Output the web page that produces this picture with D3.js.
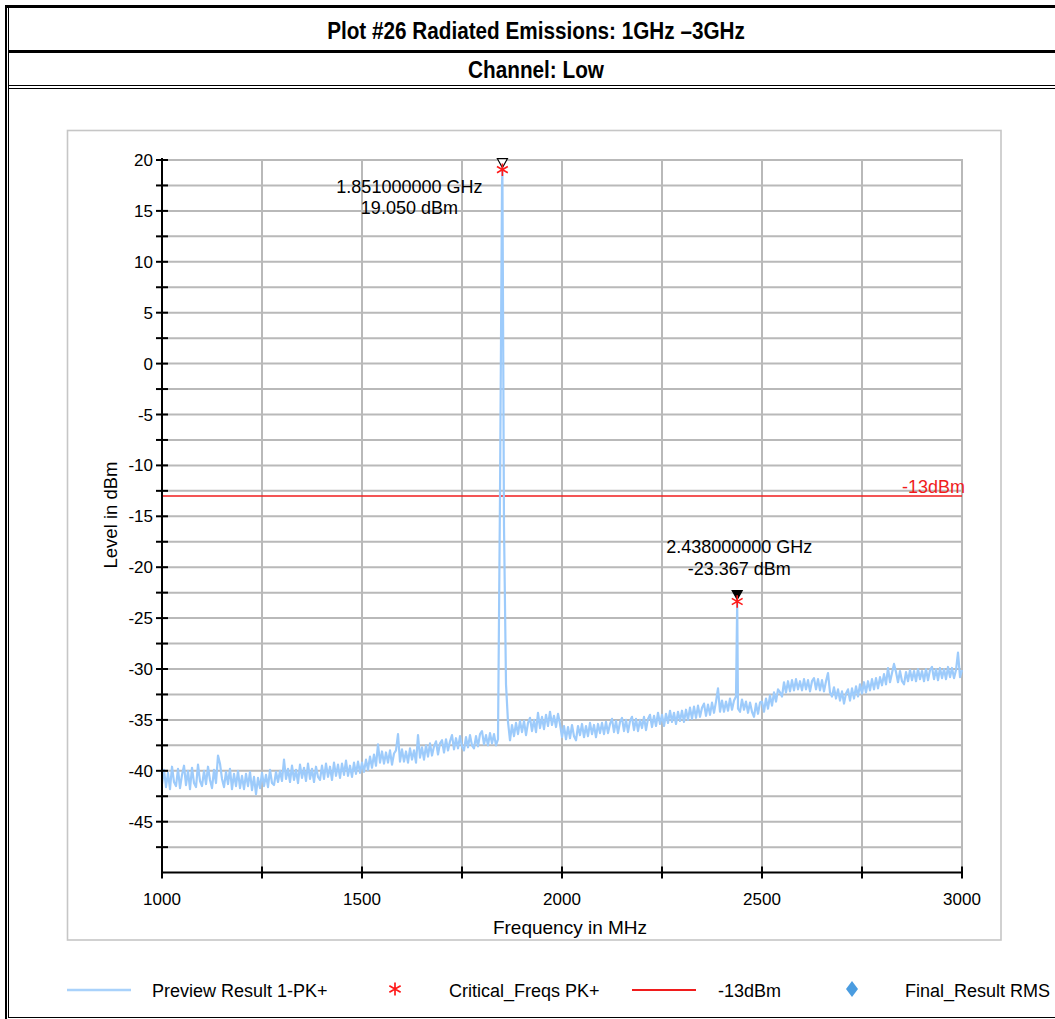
<!DOCTYPE html>
<html>
<head>
<meta charset="utf-8">
<script src="https://cdn.jsdelivr.net/npm/d3@7"></script>
<style>
  html, body { margin: 0; padding: 0; background: #fff; }
  svg { display: block; }
  text { font-family: "Liberation Sans", Arial, Helvetica, sans-serif; }
</style>
</head>
<body>
<svg id="chart" width="1055" height="1019"></svg>
<script>
// ---------------- DATA ----------------
const titleText = "Plot #26 Radiated Emissions: 1GHz \u20133GHz";
const subtitleText = "Channel: Low";
const xLabel = "Frequency in MHz";
const yLabel = "Level in dBm";

const xDomain = [1000, 3000];
const yDomain = [-50, 20];
const xTickValues = [1000, 1250, 1500, 1750, 2000, 2250, 2500, 2750, 3000];
const xTickLabels = [1000, 1500, 2000, 2500, 3000];
const yTickValues = [-50, -47.5, -45, -42.5, -40, -37.5, -35, -32.5, -30, -27.5, -25, -22.5, -20, -17.5, -15, -12.5, -10, -7.5, -5, -2.5, 0, 2.5, 5, 7.5, 10, 12.5, 15, 17.5, 20];
const yTickLabels = [-45, -40, -35, -30, -25, -20, -15, -10, -5, 0, 5, 10, 15, 20];

// Preview Result 1-PK+ : levels (dBm) every 5 MHz from 1000 MHz to 3000 MHz
const traceStartMHz = 1000;
const traceStepMHz = 5;
const traceLevels = [
  // 1000-1095
  -41.3, -39.9, -41.6, -40.2, -41.8, -39.6, -41.1, -41.5, -39.8, -41.7, -40.4, -39.5, -41.4, -40.0, -41.8, -39.7, -41.2, -41.6, -39.4, -41.0,
  // 1100-1195
  -41.5, -40.0, -41.3, -39.6, -40.9, -41.7, -39.9, -41.2, -38.5, -39.3, -40.8, -41.6, -40.1, -41.3, -39.8, -41.8, -40.3, -41.5, -40.0, -41.7,
  // 1200-1295
  -40.5, -41.8, -40.3, -41.5, -40.1, -41.9, -40.6, -42.3, -40.7, -41.7, -40.2, -41.5, -40.4, -41.6, -39.9, -41.2, -41.4, -40.1, -41.1, -40.0,
  // 1300-1395
  -41.0, -38.9, -40.8, -39.8, -41.1, -39.5, -40.9, -39.9, -41.2, -39.4, -40.7, -39.7, -41.0, -39.3, -40.8, -39.8, -41.1, -39.6, -40.6, -40.9,
  // 1400-1495
  -39.5, -40.8, -39.3, -40.6, -39.6, -40.9, -39.2, -40.5, -39.4, -40.7, -39.3, -40.4, -39.0, -40.5, -39.5, -40.6, -39.2, -40.3, -39.1, -40.2,
  // 1500-1595
  -39.2, -40.1, -38.9, -39.9, -38.6, -39.7, -38.4, -39.5, -37.4, -39.2, -38.1, -39.3, -38.2, -39.2, -38.0, -39.4, -38.3, -38.0, -36.4, -39.1,
  // 1600-1695
  -37.9, -39.1, -38.1, -39.2, -37.8, -38.9, -38.0, -39.2, -36.5, -38.7, -37.7, -38.9, -37.5, -38.6, -37.3, -38.5, -37.6, -37.1, -38.4, -37.3,
  // 1700-1795
  -37.0, -38.2, -36.9, -38.0, -37.1, -36.5, -37.9, -36.8, -37.8, -36.6, -37.6, -38.0, -36.7, -37.7, -36.5, -37.5, -37.8, -36.6, -37.6, -36.4,
  // 1800-1895
  -36.1, -37.4, -36.5, -37.5, -36.3, -37.3, -36.4, -37.5, -36.9, -13.0, 17.5, -16.0, -31.5, -35.2, -37.0, -35.5, -36.6, -35.3, -36.4, -35.1,
  // 1900-1995
  -36.2, -35.1, -36.5, -35.3, -34.8, -36.1, -35.0, -36.2, -34.3, -35.8, -34.7, -35.9, -34.5, -35.6, -34.2, -35.5, -34.6, -35.7, -34.4, -35.4,
  // 2000-2095
  -36.7, -35.6, -36.9, -35.7, -36.8, -35.5, -36.6, -37.0, -35.6, -36.5, -35.4, -36.7, -35.6, -36.6, -35.3, -36.4, -35.5, -36.7, -35.4, -36.3,
  // 2100-2195
  -35.3, -36.4, -35.2, -36.3, -35.4, -34.9, -36.2, -35.1, -36.3, -35.2, -34.8, -36.1, -35.0, -36.2, -35.1, -34.7, -36.0, -34.9, -36.1, -35.0,
  // 2200-2295
  -35.8, -34.7, -36.0, -34.9, -34.5, -35.7, -34.6, -35.6, -34.3, -35.4, -34.5, -35.6, -34.4, -35.3, -34.1, -35.2, -34.3, -35.4, -34.2, -35.1,
  // 2300-2395
  -34.1, -35.2, -34.0, -35.0, -33.8, -34.9, -33.7, -34.8, -33.6, -34.7, -33.8, -33.4, -34.6, -33.5, -34.5, -33.3, -34.3, -33.2, -31.9, -34.2,
  // 2400-2495
  -33.1, -34.2, -33.2, -34.1, -32.9, -34.0, -33.1, -32.7, -33.9, -34.2, -33.0, -34.0, -33.2, -34.3, -33.3, -34.2, -34.7, -33.4, -34.4, -33.3,
  // 2500-2595
  -33.2, -34.2, -32.9, -33.9, -32.6, -33.6, -32.3, -33.2, -32.0, -32.3, -32.7, -31.3, -32.3, -31.2, -32.2, -31.1, -32.1, -31.0, -32.0, -31.2,
  // 2600-2695
  -32.1, -31.0, -32.0, -31.1, -32.2, -31.2, -30.9, -32.0, -31.0, -32.1, -31.1, -32.2, -31.2, -30.4, -32.3, -32.7, -31.8, -32.9, -32.0, -33.1,
  // 2700-2795
  -32.2, -33.4, -32.4, -32.0, -33.1, -31.9, -32.9, -31.7, -32.7, -31.5, -32.4, -31.3, -32.3, -31.2, -32.1, -31.0, -32.0, -30.9, -31.9, -30.8,
  // 2800-2895
  -31.6, -30.5, -31.5, -29.9, -31.3, -30.4, -29.5, -30.3, -31.3, -30.2, -31.2, -31.5, -30.3, -31.2, -30.1, -31.1, -30.2, -31.2, -30.0, -31.0,
  // 2900-2995
  -30.2, -31.2, -30.0, -31.1, -30.1, -29.8, -31.0, -30.0, -31.1, -29.9, -30.9, -30.0, -31.0, -29.8, -30.8, -29.9, -30.9, -30.1, -28.4, -30.8,
  // 3000
  -30.1
];

// Critical_Freqs PK+ (MHz, dBm) -- also the trace maxima
const criticalFreqs = [1851, 2438];
const criticalLevels = [19.05, -23.367];
const markerLabels = [["1.851000000 GHz", "19.050 dBm"], ["2.438000000 GHz", "-23.367 dBm"]];
const markerFilled = [false, true];

const limitLevel = -13;
const limitLabel = "-13dBm";

const legendNames = ["Preview Result 1-PK+", "Critical_Freqs PK+", "-13dBm", "Final_Result RMS"];

// ---------------- STYLE ----------------
const traceColor = "#9dcbfb";
const limitColor = "#f01c1c";
const gridColor = "#b9b9b9";
const diamondColor = "#4a9ce0";

// ---------------- BUILD ----------------
const svg = d3.select("#chart");

// Table frame
const frame = svg.append("g").attr("fill", "#000");
frame.append("rect").attr("x", 5).attr("y", 5).attr("width", 1060).attr("height", 3);      // top thick
frame.append("rect").attr("x", 5).attr("y", 5).attr("width", 2).attr("height", 1020);     // left thick
frame.append("rect").attr("x", 8).attr("y", 8).attr("width", 1).attr("height", 1010);     // inner left
frame.append("rect").attr("x", 8).attr("y", 50).attr("width", 1060).attr("height", 3);    // row sep 1
frame.append("rect").attr("x", 8).attr("y", 85).attr("width", 1060).attr("height", 1);    // row sep 2a
frame.append("rect").attr("x", 8).attr("y", 88).attr("width", 1060).attr("height", 1);    // row sep 2b
frame.append("rect").attr("x", 8).attr("y", 1017).attr("width", 1060).attr("height", 1);  // bottom inner

// Condensed bold header text (horizontal scale to mimic a narrow face)
function condensedText(txt, cx, baseline, size, targetWidth) {
  const g = svg.append("g");
  const t = g.append("text")
    .attr("x", 0).attr("y", 0)
    .attr("text-anchor", "middle")
    .attr("font-size", size).attr("font-weight", "bold")
    .text(txt);
  const w = t.node().getComputedTextLength();
  const sx = w > 0 ? targetWidth / w : 1;
  g.attr("transform", `translate(${cx},${baseline}) scale(${sx.toFixed(4)},1)`);
}
condensedText(titleText, 536, 39, 23, 418);
condensedText(subtitleText, 536, 78, 23, 136);

// Chart box
svg.append("rect")
  .attr("x", 67.5).attr("y", 130.5).attr("width", 933.5).attr("height", 809.5)
  .attr("fill", "none").attr("stroke", "#c6c6c6").attr("stroke-width", 1.6);

// Scales
const x = d3.scaleLinear().domain(xDomain).range([162, 962]);
const y = d3.scaleLinear().domain(yDomain).range([872.6, 160]);

// Grid
const grid = svg.append("g").attr("stroke", gridColor).attr("stroke-width", 2);
grid.selectAll("line.gx").data(xTickValues.slice(1)).join("line")
  .attr("x1", d => x(d)).attr("x2", d => x(d))
  .attr("y1", y(yDomain[0])).attr("y2", y(yDomain[1]) - 1);
grid.selectAll("line.gy").data(yTickValues.slice(1)).join("line")
  .attr("y1", d => y(d)).attr("y2", d => y(d))
  .attr("x1", x(xDomain[0])).attr("x2", x(xDomain[1]) + 1);

// Limit line
svg.append("line")
  .attr("x1", x(xDomain[0])).attr("x2", x(xDomain[1]))
  .attr("y1", y(limitLevel)).attr("y2", y(limitLevel))
  .attr("stroke", limitColor).attr("stroke-width", 1.5);
svg.append("text")
  .attr("x", x(xDomain[1]) + 3).attr("y", y(limitLevel) - 3)
  .attr("text-anchor", "end").attr("font-size", 18).attr("fill", limitColor)
  .text(limitLabel);

// Trace
const tracePts = traceLevels.map((v, i) => [traceStartMHz + i * traceStepMHz, v]);
criticalFreqs.forEach((f, i) => tracePts.push([f, criticalLevels[i]]));
tracePts.sort((a, b) => a[0] - b[0]);
const line = d3.line().x(d => x(d[0])).y(d => y(d[1]));
svg.append("path")
  .datum(tracePts)
  .attr("d", line)
  .attr("fill", "none").attr("stroke", traceColor).attr("stroke-width", 2.2)
  .attr("stroke-linejoin", "round");

// Axes
const axes = svg.append("g").attr("stroke", "#000").attr("stroke-width", 2);
axes.append("line").attr("x1", x(xDomain[0])).attr("x2", x(xDomain[0]))
  .attr("y1", y(yDomain[1]) - 2).attr("y2", y(yDomain[0]) + 1);
axes.append("line").attr("x1", x(xDomain[0]) - 1).attr("x2", x(xDomain[1]))
  .attr("y1", y(yDomain[0])).attr("y2", y(yDomain[0]));
axes.selectAll("line.ty").data(yTickValues.slice(1)).join("line")
  .attr("x1", x(xDomain[0]) - 6).attr("x2", x(xDomain[0]) + 6)
  .attr("y1", d => y(d)).attr("y2", d => y(d));
axes.selectAll("line.tx").data(xTickValues).join("line")
  .attr("x1", d => x(d)).attr("x2", d => x(d))
  .attr("y1", y(yDomain[0]) - 6).attr("y2", y(yDomain[0]) + 6);

svg.append("g").selectAll("text").data(yTickLabels).join("text")
  .attr("x", x(xDomain[0]) - 9).attr("y", d => y(d) + 6)
  .attr("text-anchor", "end").attr("font-size", 17).attr("fill", "#000")
  .text(d => d);
svg.append("g").selectAll("text").data(xTickLabels).join("text")
  .attr("x", d => x(d)).attr("y", y(yDomain[0]) + 32)
  .attr("text-anchor", "middle").attr("font-size", 17).attr("fill", "#000")
  .text(d => d);

svg.append("text")
  .attr("x", 570).attr("y", 934)
  .attr("text-anchor", "middle").attr("font-size", 19)
  .text(xLabel);
svg.append("text")
  .attr("transform", `translate(117, 515) rotate(-90)`)
  .attr("text-anchor", "middle").attr("font-size", 18.5)
  .text(yLabel);

// Markers
const labelOffsets = [-93, 2];
const mk = svg.append("g");
criticalFreqs.forEach((f, i) => {
  const px = x(f), py = y(criticalLevels[i]);
  // triangle pointing down
  mk.append("path")
    .attr("d", `M${px - 5},${py - 11} L${px + 5},${py - 11} L${px},${py - 2} Z`)
    .attr("fill", markerFilled[i] ? "#000" : "#fff")
    .attr("stroke", "#000").attr("stroke-width", 1.2);
  // asterisk
  mk.append("path")
    .attr("d", d3.symbol().type(d3.symbolAsterisk).size(110)())
    .attr("transform", `translate(${px},${py})`)
    .attr("fill", "none").attr("stroke", "#ff1a1a").attr("stroke-width", 1.6);
  const lx = px + labelOffsets[i];
  const ly = i === 0 ? py + 23 : py - 48;
  mk.append("text").attr("x", lx).attr("y", ly).attr("text-anchor", "middle")
    .attr("font-size", 18).text(markerLabels[i][0]);
  mk.append("text").attr("x", lx).attr("y", ly + 21.5).attr("text-anchor", "middle")
    .attr("font-size", 18).text(markerLabels[i][1]);
});

// Legend
const ly = 990;
const lg = svg.append("g");
lg.append("line").attr("x1", 67).attr("x2", 131).attr("y1", ly).attr("y2", ly)
  .attr("stroke", "#a9d2fb").attr("stroke-width", 2.5);
lg.append("text").attr("x", 152).attr("y", ly + 7).attr("font-size", 18).text(legendNames[0]);
lg.append("path")
  .attr("d", d3.symbol().type(d3.symbolAsterisk).size(120)())
  .attr("transform", `translate(395,${ly - 1})`)
  .attr("fill", "none").attr("stroke", "#ff1a1a").attr("stroke-width", 1.7);
lg.append("text").attr("x", 449).attr("y", ly + 7).attr("font-size", 18).text(legendNames[1]);
lg.append("line").attr("x1", 632).attr("x2", 696).attr("y1", ly).attr("y2", ly)
  .attr("stroke", limitColor).attr("stroke-width", 2);
lg.append("text").attr("x", 718).attr("y", ly + 7).attr("font-size", 18).text(legendNames[2]);
lg.append("path")
  .attr("d", "M0,-8 L6,0 L0,8 L-6,0 Z")
  .attr("transform", `translate(852,${ly - 1})`)
  .attr("fill", diamondColor);
lg.append("text").attr("x", 905).attr("y", ly + 7).attr("font-size", 18).text(legendNames[3]);
</script>
</body>
</html>
